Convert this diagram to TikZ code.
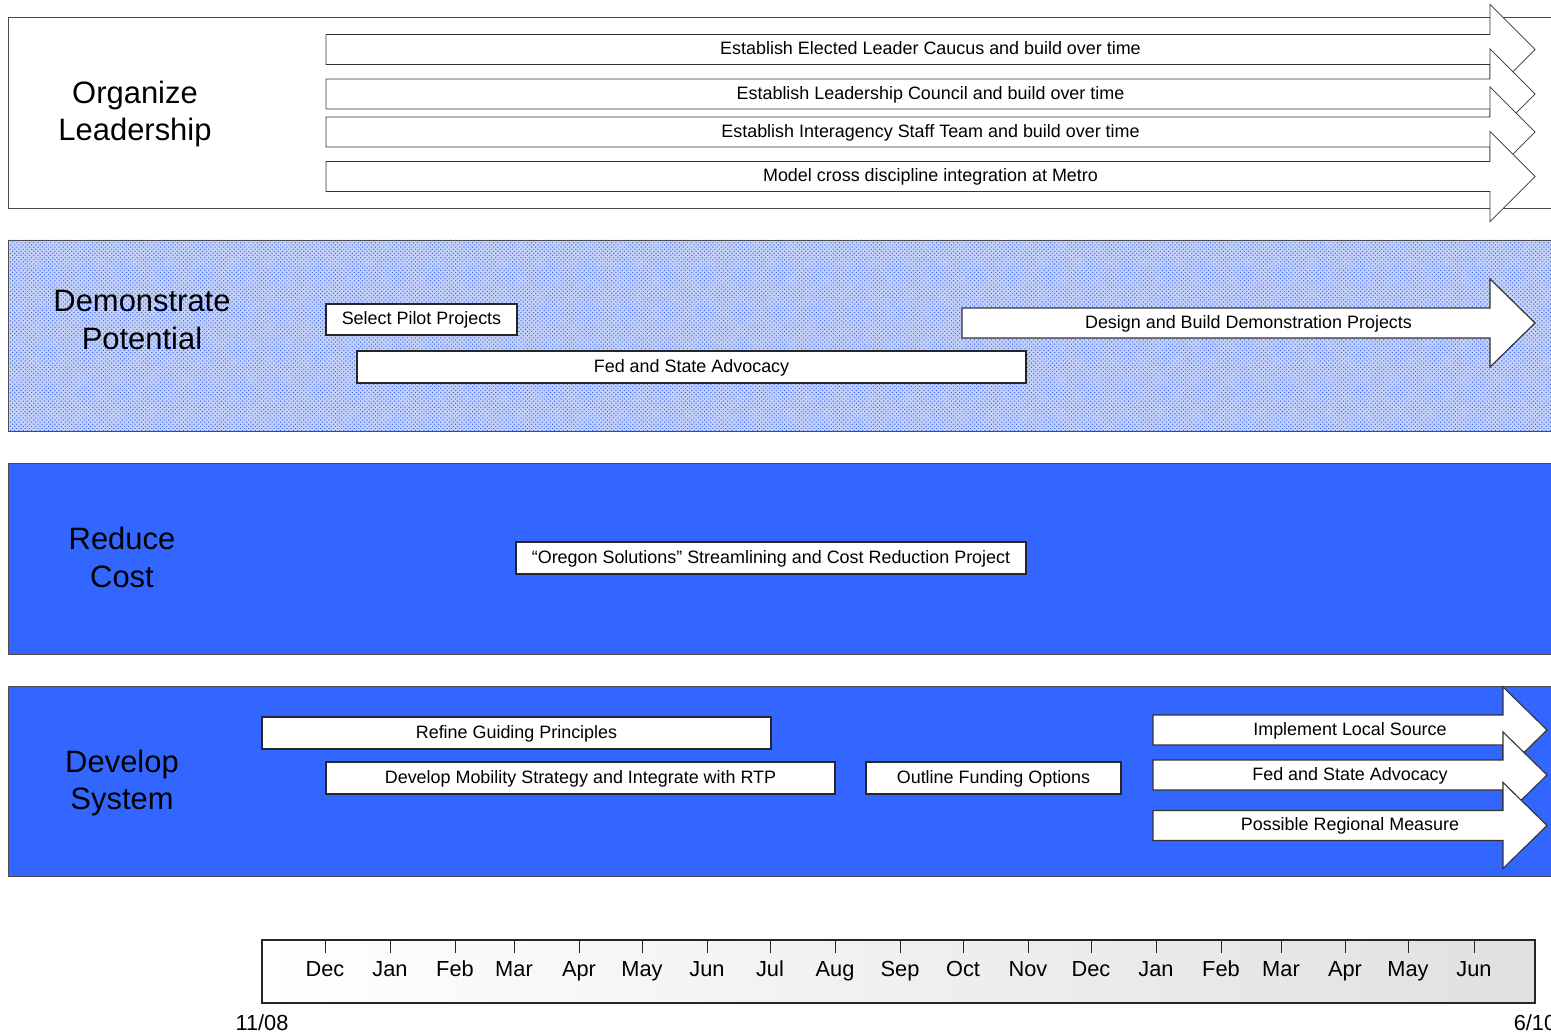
\documentclass[tikz,border=0pt]{standalone}
\usepackage{fontspec}
\setmainfont{Liberation Sans}
\usetikzlibrary{patterns}

\definecolor{goalblue}{RGB}{51,102,255}
\definecolor{demofill}{RGB}{196,210,250}
\definecolor{demodot}{RGB}{60,100,240}

\begin{document}
\begin{tikzpicture}[x=0.025cm, y=-0.025cm,
  panel/.style={draw=black!70, line width=0.6pt},
  blockarrow/.style={draw=black!80, fill=white, line width=0.5pt},
  tasklabel/.style={inner sep=0pt, font=\fontsize{12.75}{14}\selectfont,
                    text height=0.72em, text depth=0pt},
  taskbox/.style={tasklabel, draw=black!85, fill=white, line width=0.8pt},
  goal/.style={align=center, inner sep=0pt, font=\fontsize{22}{27}\selectfont},
  month/.style={anchor=base, inner sep=0pt, font=\fontsize{15.5}{18}\selectfont},
  timebar/.style={draw=black!85, line width=0.8pt, shading=axis,
                  left color=white, right color=black!12, inner sep=0pt}]
  \useasboundingbox (0,0) rectangle (1551,1036);
  \clip (0,0) rectangle (1551,1036);

  % Organize Leadership
  \draw[panel, fill=white] (8,17) rectangle (1570,208);
  \node[goal] (org) at (135,114) {Organize\\Leadership};
  \foreach \n/\xa/\y/\xb/\t in {
      caucus/326/49.5/1490/{Establish Elected Leader Caucus and build over time},
      council/326/94/1490/{Establish Leadership Council and build over time},
      staff/326/132/1490/{Establish Interagency Staff Team and build over time},
      metro/326/176.5/1490/{Model cross discipline integration at Metro}} {
    \draw[blockarrow] (\xa,\y-15) -- (\xb,\y-15) -- (\xb,\y-45) -- (\xb+45,\y)
      -- (\xb,\y+45) -- (\xb,\y+15) -- (\xa,\y+15) -- cycle;
    \node[tasklabel] (\n) at ({(\xa+\xb+45)/2},\y) {\t};
  }

  % Demonstrate Potential
  \fill[demofill] (8,240) rectangle (1570,431);
  \fill[pattern=crosshatch dots, pattern color=demodot] (8,240) rectangle (1570,431);
  \draw[panel] (8,240) rectangle (1570,431);
  \node[goal] (demo) at (142,320) {Demonstrate\\Potential};
  \node[taskbox, minimum width=191*0.025cm, minimum height=31*0.025cm]
    (pilot) at (421.5,319.5) {Select Pilot Projects};
  \node[taskbox, minimum width=669*0.025cm, minimum height=32*0.025cm]
    (advocacy) at (691.5,367) {Fed and State Advocacy};
  \draw[blockarrow, line width=0.8pt] (962,308) -- (1490,308) -- (1490,279) -- (1535,323)
    -- (1490,367) -- (1490,338) -- (962,338) -- cycle;
  \node[tasklabel] (build) at (1248.5,323) {Design and Build Demonstration Projects};

  % Reduce Cost
  \draw[panel, fill=goalblue] (8,463) rectangle (1570,654);
  \node[goal] (cost) at (122,557) {Reduce\\Cost};
  \node[taskbox, minimum width=510*0.025cm, minimum height=32*0.025cm]
    (oregon) at (771,558) {“Oregon Solutions” Streamlining and Cost Reduction Project};

  % Develop System
  \draw[panel, fill=goalblue] (8,686) rectangle (1570,876);
  \node[goal] (system) at (122,783) {Develop\\System};
  \foreach \n/\xa/\ya/\xb/\yb/\t in {
      refine/262/717/771/749/{Refine Guiding Principles},
      mobility/326/762/835/794/{Develop Mobility Strategy and Integrate with RTP},
      funding/866/762/1121/794/{Outline Funding Options}} {
    \node[taskbox, minimum width={(\xb-\xa)*0.025cm}, minimum height={(\yb-\ya)*0.025cm}]
      (\n) at ({(\xa+\xb)/2},{(\ya+\yb)/2}) {\t};
  }
  \foreach \n/\y/\t in {
      local/730/{Implement Local Source},
      fedstate/775/{Fed and State Advocacy},
      measure/825.5/{Possible Regional Measure}} {
    \draw[blockarrow, line width=0.8pt] (1153,\y-15) -- (1503,\y-15) -- (1503,\y-43)
      -- (1547,\y) -- (1503,\y+43) -- (1503,\y+15) -- (1153,\y+15) -- cycle;
    \node[tasklabel] (\n) at (1350,\y) {\t};
  }

  % Timeline
  \node[timebar, minimum width=1273*0.025cm, minimum height=63*0.025cm]
    (bar) at (898.5,971.5) {};
  \foreach \x/\m [count=\i] in {325/Dec, 390/Jan, 455/Feb, 514/Mar, 579/Apr,
      642/May, 707/Jun, 770/Jul, 835/Aug, 900/Sep, 963/Oct, 1028/Nov, 1091/Dec,
      1156/Jan, 1221/Feb, 1281/Mar, 1345/Apr, 1408/May, 1474/Jun} {
    \draw[black!85, line width=0.6pt] (\x,940) -- (\x,953);
    \node[month] (m\i) at (\x,976) {\m};
  }
  \node[month] (start) at (262,1030) {11/08};
  \node[month] (end) at (1535,1030) {6/10};
\end{tikzpicture}
\end{document}
